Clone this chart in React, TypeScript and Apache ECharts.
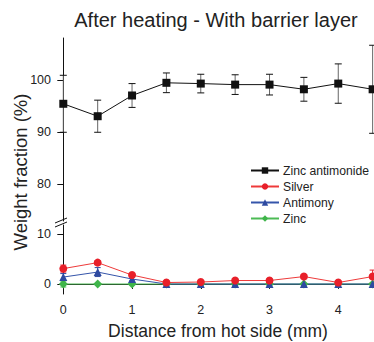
import React, { useEffect, useRef } from "react";
import * as echarts from "echarts";

const distances = [0, 0.5, 1, 1.5, 2, 2.5, 3, 3.5, 4, 4.5];
const zincAntimonide = [95.5, 93.1, 97.1, 99.55, 99.4, 99.2, 99.2, 98.3, 99.4, 98.3];
const zincAntimonideErr = [5.5, 3.1, 2.3, 1.9, 1.8, 1.9, 2.0, 2.3, 3.8, 8.5];
const silver = [3.1, 4.3, 1.8, 0.3, 0.4, 0.7, 0.7, 1.5, 0.3, 1.5];
const silverErr = [0.7, 0.4, 0.3, 0.2, 0.2, 0.2, 0.2, 0.3, 0.2, 1.3];
const antimony = [1.4, 2.4, 1.0, 0, 0, 0, 0, 0, 0, 0];
const antimonyErr = [0.7, 0.9, 0.4, 0.1, 0.1, 0.1, 0.1, 0.1, 0.1, 0.1];
const zinc = [0, 0, 0, 0, 0, 0, 0, 0, 0, 0];
const zincErr = [0.6, 0.1, 0.1, 0.1, 0.1, 0.1, 0.1, 0.1, 0.1, 0.1];

const xTicks = [0, 1, 2, 3, 4];
const yTopTicks = [80, 90, 100];
const yTopMinor = [75, 85, 95, 105];
const yBottomTicks = [0, 10];
const yBottomMinor = [5];

const FONT = "Liberation Sans, Arial, Helvetica, sans-serif";

function pairs(vals: number[]) {
  return distances.map((d, i) => [d, vals[i]]);
}
function errData(vals: number[], err: number[]) {
  return distances.map((d, i) => [d, vals[i] - err[i], vals[i] + err[i]]);
}

function errorSeries(vals: number[], err: number[], color: string, barColor: string, gridIdx: number, capW: number) {
  return {
    type: "custom",
    xAxisIndex: gridIdx === 0 ? 0 : 1,
    yAxisIndex: gridIdx === 0 ? 0 : 2,
    clip: false,
    silent: true,
    data: errData(vals, err),
    renderItem: (params: any, api: any) => {
      const lo = api.coord([api.value(0), api.value(1)]);
      const hi = api.coord([api.value(0), api.value(2)]);
      const half = capW / 2;
      return {
        type: "group",
        children: [
          { type: "line", shape: { x1: lo[0], y1: lo[1], x2: hi[0], y2: hi[1] }, style: { stroke: barColor, lineWidth: 1 } },
          { type: "line", shape: { x1: lo[0] - half, y1: lo[1], x2: lo[0] + half, y2: lo[1] }, style: { stroke: color, lineWidth: 1 } },
          { type: "line", shape: { x1: hi[0] - half, y1: hi[1], x2: hi[0] + half, y2: hi[1] }, style: { stroke: color, lineWidth: 1 } },
        ],
      };
    },
  };
}

export default function App() {
  const ref = useRef<HTMLDivElement>(null);
  useEffect(() => {
    if (!ref.current) return;
    const chart = echarts.init(ref.current, null, { renderer: "svg" });
    const axisLine = { show: true, lineStyle: { color: "#111", width: 1 } };
    const labelStyle = { color: "#222", fontSize: 12.5, fontFamily: FONT };
    const xMin = -0.0335;
    const xMax = 4.52;
    const option: any = {
      animation: false,
      backgroundColor: "#fff",
      grid: [
        { left: 61, top: 38, width: 313, height: 183 },
        { left: 61, top: 225, width: 313, height: 69 },
      ],
      xAxis: [
        { type: "value", gridIndex: 0, min: xMin, max: xMax, show: false },
        {
          type: "value", gridIndex: 1, min: xMin, max: xMax,
          axisLine, splitLine: { show: false },
          axisTick: { show: true, length: 5, lineStyle: { color: "#111" }, customValues: xTicks },
          axisLabel: { ...labelStyle, margin: 9, customValues: xTicks },
        },
      ],
      yAxis: [
        {
          type: "value", gridIndex: 0, min: 72.87, max: 108.2,
          axisLine, splitLine: { show: false },
          axisTick: { show: true, length: 6, lineStyle: { color: "#111" }, customValues: yTopTicks },
          axisLabel: { ...labelStyle, margin: 10, customValues: yTopTicks },
        },
        {
          type: "value", gridIndex: 0, min: 72.87, max: 108.2,
          axisLine: { show: false }, splitLine: { show: false },
          axisTick: { show: true, length: 3, lineStyle: { color: "#111" }, customValues: yTopMinor },
          axisLabel: { show: false },
        },
        {
          type: "value", gridIndex: 1, min: -2.01, max: 11.87,
          axisLine, splitLine: { show: false },
          axisTick: { show: true, length: 6, lineStyle: { color: "#111" }, customValues: yBottomTicks },
          axisLabel: { ...labelStyle, margin: 10, customValues: yBottomTicks },
        },
        {
          type: "value", gridIndex: 1, min: -2.01, max: 11.87,
          axisLine: { show: false }, splitLine: { show: false },
          axisTick: { show: true, length: 3, lineStyle: { color: "#111" }, customValues: yBottomMinor },
          axisLabel: { show: false },
        },
      ],
      legend: {
        orient: "vertical",
        left: 250,
        top: 164,
        padding: 0,
        itemWidth: 28,
        itemHeight: 8,
        itemGap: 3,
        data: ["Zinc antimonide", "Silver", "Antimony", "Zinc"],
        textStyle: { color: "#222", fontSize: 12.2, fontFamily: FONT, lineHeight: 13, padding: [0, 0, 0, -1] },
      },
      graphic: [
        {
          type: "text", x: 216, y: 20,
          style: { text: "After heating - With barrier layer", font: `20px ${FONT}`, fill: "#222", textAlign: "center", textVerticalAlign: "middle" },
        },
        {
          type: "text", x: 20, y: 172, rotation: Math.PI / 2,
          style: { text: "Weight fraction (%)", font: `18.5px ${FONT}`, fill: "#222", textAlign: "center", textVerticalAlign: "middle" },
        },
        {
          type: "text", x: 218, y: 331,
          style: { text: "Distance from hot side (mm)", font: `17.5px ${FONT}`, fill: "#222", textAlign: "center", textVerticalAlign: "middle" },
        },
        { type: "line", shape: { x1: 55, y1: 223, x2: 67, y2: 218 }, style: { stroke: "#111", lineWidth: 1 } },
        { type: "line", shape: { x1: 55, y1: 227, x2: 67, y2: 222 }, style: { stroke: "#111", lineWidth: 1 } },
      ],
      series: [
        errorSeries(zincAntimonide, zincAntimonideErr, "#111", "#666", 0, 7),
        errorSeries(silver, silverErr, "#e8202a", "#e8202a", 1, 6),
        errorSeries(antimony, antimonyErr, "#2e4aa0", "#2e4aa0", 1, 6),
        errorSeries(zinc, zincErr, "#3fb54a", "#3fb54a", 1, 6),
        {
          name: "Zinc antimonide", type: "line", xAxisIndex: 0, yAxisIndex: 0, clip: false,
          data: pairs(zincAntimonide), symbol: "rect", symbolSize: 8,
          lineStyle: { color: "#111", width: 1 }, itemStyle: { color: "#111" },
        },
        {
          name: "Zinc", type: "line", xAxisIndex: 1, yAxisIndex: 2, clip: false,
          data: pairs(zinc), symbol: "diamond", symbolSize: 9,
          lineStyle: { color: "#4cbb55", width: 1 }, itemStyle: { color: "#3fb54a" },
        },
        {
          name: "Antimony", type: "line", xAxisIndex: 1, yAxisIndex: 2, clip: false,
          data: pairs(antimony), symbol: "triangle", symbolSize: 8,
          lineStyle: { color: "#3555aa", width: 1 }, itemStyle: { color: "#2e4aa0" },
        },
        {
          name: "Silver", type: "line", xAxisIndex: 1, yAxisIndex: 2, clip: false,
          data: pairs(silver), symbol: "circle", symbolSize: 8,
          lineStyle: { color: "#ee3a3a", width: 1 }, itemStyle: { color: "#e8202a" },
        },
      ],
    };
    chart.setOption(option);
    return () => chart.dispose();
  }, []);
  return <div ref={ref} style={{ position: "absolute", left: 0, top: 0, width: 374, height: 342 }} />;
}
